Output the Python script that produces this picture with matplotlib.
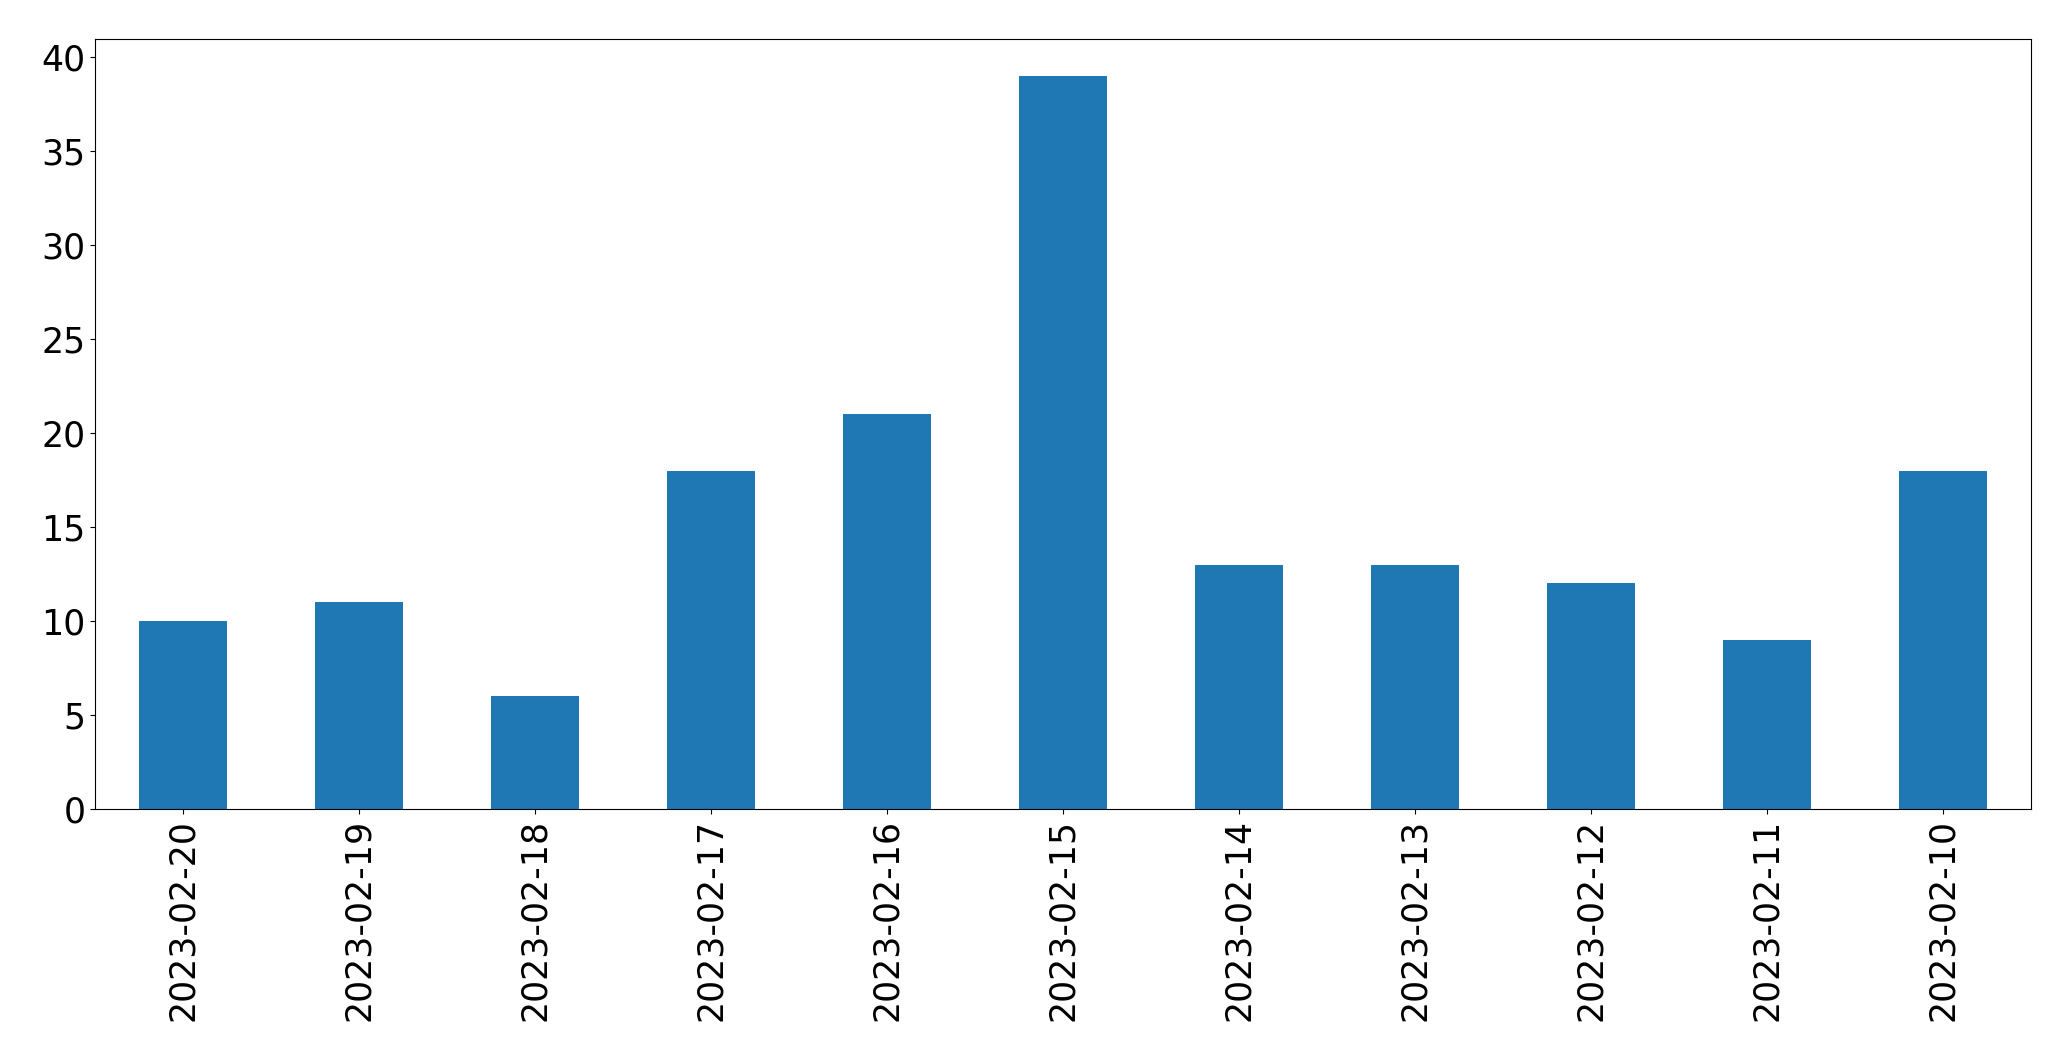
import matplotlib
matplotlib.use("Agg")
import matplotlib.pyplot as plt
import numpy as np

# dias (ordem decrescente, como no original) e contagens
dates = ["2023-02-20", "2023-02-19", "2023-02-18", "2023-02-17", "2023-02-16",
         "2023-02-15", "2023-02-14", "2023-02-13", "2023-02-12", "2023-02-11",
         "2023-02-10"]
counts = [10, 11, 6, 18, 21, 39, 13, 13, 12, 9, 18]

fig = plt.figure(figsize=(20.71, 10.61), dpi=100)
ax = fig.add_axes([95 / 2071, 1 - 809 / 1061, (2031 - 95) / 2071, (809 - 39) / 1061])

x = np.arange(len(dates))
ax.bar(x, counts, width=0.5, color="#1f77b4")
ax.set_xlim(-0.5, len(dates) - 0.5)
ax.set_ylim(0, max(counts) * 1.05)
ax.set_xticks(x)
ax.set_xticklabels(dates, rotation=90)
ax.set_yticks(range(0, 41, 5))
ax.tick_params(labelsize=25)

fig.savefig("out.png", dpi=100)
